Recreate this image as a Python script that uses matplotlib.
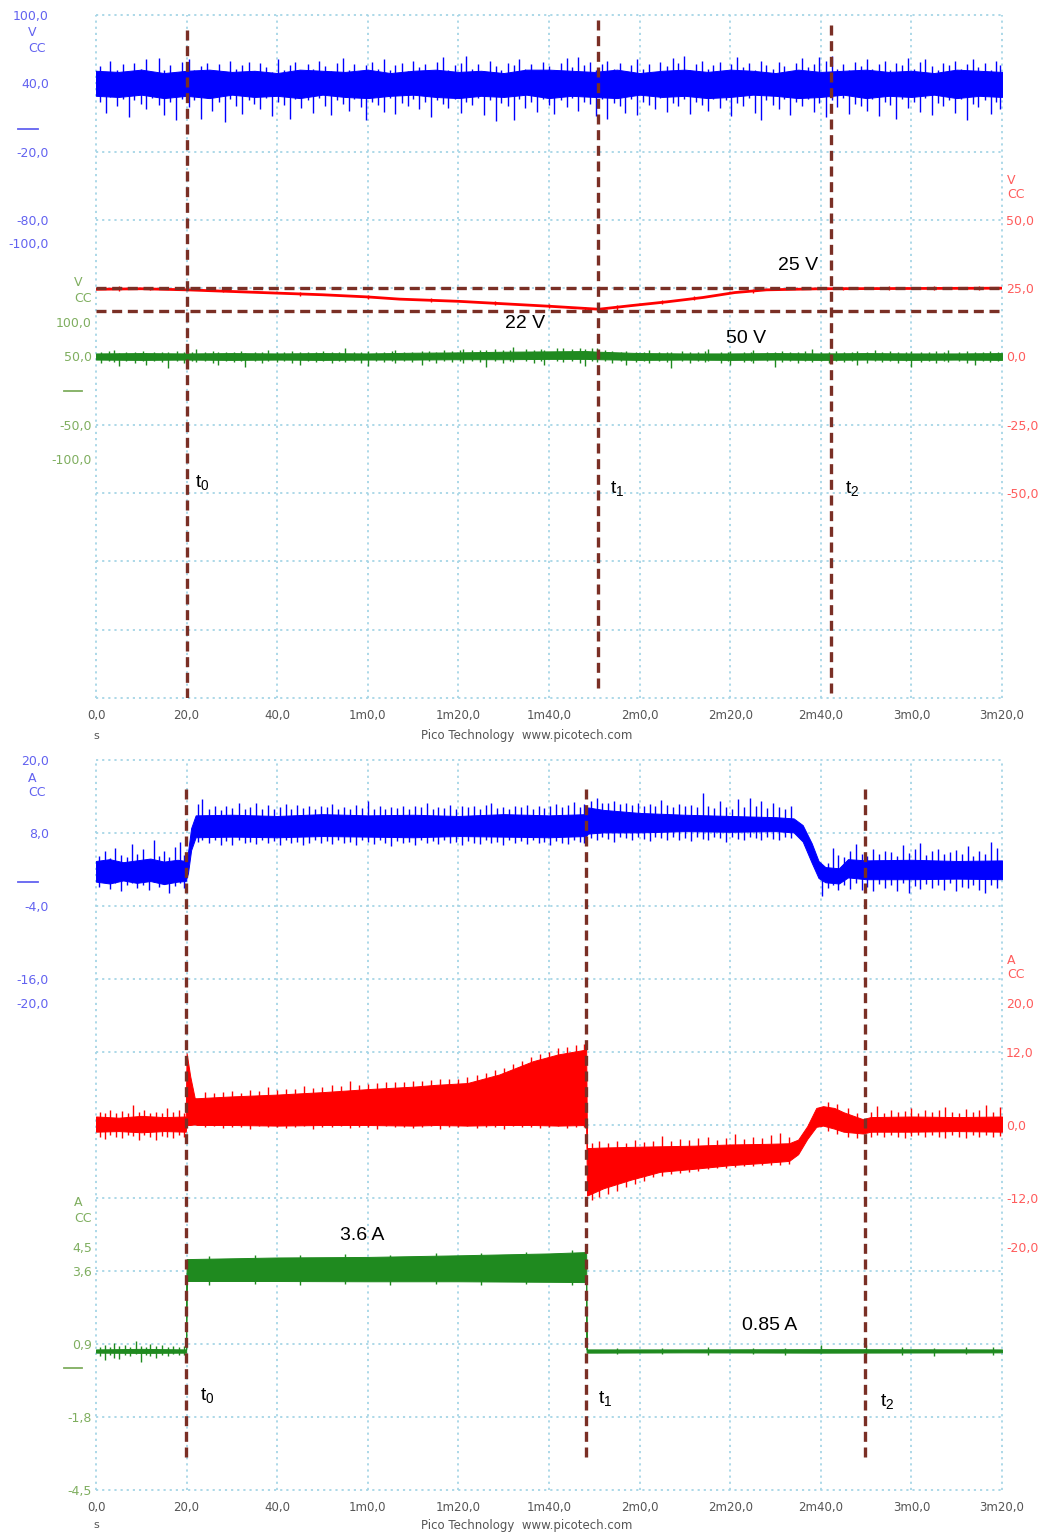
import matplotlib
matplotlib.use("Agg")
import matplotlib.pyplot as plt
import matplotlib.transforms as mtransforms

W, H, DPI = 1046, 1539, 100
plt.rcParams['font.family'] = ['DejaVu Sans']
plt.rcParams['mathtext.fontset'] = 'custom'
plt.rcParams['mathtext.rm'] = 'Liberation Sans'
plt.rcParams['mathtext.it'] = 'Liberation Sans'

# ---------------- time axis ----------------
time_ticks = [0, 20, 40, 60, 80, 100, 120, 140, 160, 180, 200]
time_labels = ["0,0", "20,0", "40,0", "1m0,0", "1m20,0", "1m40,0",
               "2m0,0", "2m20,0", "2m40,0", "3m0,0", "3m20,0"]

# cursor times (s)
top_cursors = [20.0, 110.8, 162.2]
bot_cursors = [19.9, 108.2, 169.8]

# ================= upper capture: voltages =================
# channel A (blue), V : dense core band + noise excursions (t, min, max)
vA_t = [0, 5, 10, 15, 20, 25, 30, 35, 40, 45, 50, 55, 60, 65, 70, 75, 80, 85, 90, 95, 100,
        105, 110, 115, 120, 125, 130, 135, 140, 145, 150, 155, 160, 165, 170, 175, 180, 185, 190, 195, 200]
vA_hi = [51, 50, 52, 49, 51, 52, 50, 51, 49, 52, 51, 50, 52, 49, 51, 52, 50, 51, 49, 52, 52,
         51, 50, 52, 49, 51, 52, 50, 52, 51, 49, 52, 50, 51, 52, 50, 51, 49, 52, 51, 50]
vA_lo = [29, 28, 30, 27, 29, 27, 30, 28, 29, 27, 30, 28, 27, 29, 30, 28, 27, 29, 28, 30, 27,
         29, 28, 27, 30, 28, 29, 27, 28, 30, 29, 27, 28, 30, 27, 29, 28, 30, 27, 29, 28]
vA_noise = [
    (0.8, 24, 55), (2.1, 14, 50), (3.0, 28, 60), (4.6, 20, 52), (5.9, 26, 57), (7.2, 10, 49),
    (8.4, 25, 58), (9.9, 22, 53), (11.0, 17, 61), (12.3, 27, 50), (13.9, 21, 62), (15.1, 12, 52),
    (16.4, 24, 56), (17.6, 8, 50), (19.0, 26, 59), (20.5, 19, 61), (21.7, 25, 52), (23.2, 9, 55),
    (24.5, 27, 58), (25.6, 16, 51), (27.1, 24, 57), (28.4, 6, 50), (29.5, 26, 60), (31.0, 20, 53),
    (32.2, 13, 56), (33.7, 25, 59), (34.9, 22, 51), (36.1, 17, 58), (37.6, 27, 54), (38.8, 11, 50),
    (40.1, 24, 61), (41.5, 21, 52), (42.8, 9, 56), (44.0, 26, 59), (45.3, 18, 51), (46.7, 25, 57),
    (48.0, 14, 53), (49.2, 27, 60), (50.6, 20, 55), (51.9, 12, 51), (53.1, 25, 58), (54.5, 22, 62),
    (55.8, 16, 52), (57.0, 26, 57), (58.4, 19, 50), (59.7, 8, 56), (61.0, 24, 59), (62.2, 21, 53),
    (63.6, 15, 61), (64.9, 27, 52), (66.1, 13, 56), (67.5, 23, 58), (68.8, 20, 51), (70.0, 26, 60),
    (71.4, 17, 54), (72.7, 24, 57), (73.9, 10, 50), (75.3, 25, 59), (76.6, 22, 63), (77.8, 18, 52),
    (79.2, 26, 56), (80.5, 14, 58), (81.7, 24, 64), (83.1, 21, 53), (84.4, 27, 57), (85.6, 12, 51),
    (87.0, 25, 60), (88.3, 7, 55), (89.5, 23, 52), (90.9, 20, 58), (92.2, 8, 56), (93.4, 26, 61),
    (94.8, 18, 53), (96.1, 24, 57), (97.3, 15, 50), (98.7, 26, 59), (100.0, 21, 55), (101.2, 13, 52),
    (102.6, 25, 58), (103.9, 19, 62), (105.1, 27, 54), (106.5, 16, 63), (107.8, 24, 56), (109.0, 22, 59),
    (110.4, 11, 52), (111.7, 26, 57), (112.9, 9, 60), (114.3, 23, 53), (115.6, 20, 58), (116.8, 14, 51),
    (118.2, 26, 56), (119.5, 12, 61), (120.7, 24, 53), (122.1, 21, 57), (123.4, 17, 50), (124.6, 27, 59),
    (126.0, 15, 55), (127.3, 23, 62), (128.5, 20, 58), (129.9, 26, 64), (131.2, 13, 52), (132.4, 24, 57),
    (133.8, 21, 60), (135.1, 16, 53), (136.3, 26, 56), (137.7, 18, 59), (139.0, 25, 51), (140.2, 11, 57),
    (141.6, 23, 63), (142.9, 20, 54), (144.1, 27, 58), (145.5, 14, 52), (146.8, 8, 60), (148.0, 25, 56),
    (149.4, 21, 53), (150.7, 17, 59), (151.9, 26, 55), (153.3, 12, 51), (154.6, 24, 58), (155.8, 20, 62),
    (157.2, 26, 54), (158.5, 15, 57), (159.7, 23, 63), (161.1, 10, 60), (162.4, 25, 64), (163.6, 19, 53),
    (165.0, 27, 57), (166.3, 13, 52), (167.5, 22, 59), (168.9, 20, 55), (170.2, 16, 61), (171.4, 26, 53),
    (172.8, 11, 57), (174.1, 24, 60), (175.3, 21, 52), (176.7, 9, 58), (178.0, 26, 56), (179.2, 18, 62),
    (180.6, 24, 53), (181.9, 15, 59), (183.1, 27, 61), (184.5, 12, 55), (185.8, 23, 52), (187.0, 20, 58),
    (188.4, 25, 56), (189.7, 14, 60), (190.9, 26, 53), (192.3, 8, 57), (193.6, 22, 61), (194.8, 19, 54),
    (196.2, 25, 58), (197.5, 13, 52), (198.7, 24, 60), (199.6, 17, 56),
]

# channel B (red), V
vB_t = [0, 10, 20, 30, 40, 50, 60, 67, 80, 90, 100, 111, 118, 126, 134, 141, 148, 160, 180, 200]
vB_v = [24.6, 24.8, 24.4, 23.8, 23.2, 22.6, 21.8, 21.0, 20.2, 19.3, 18.4, 17.3,
        18.6, 20.0, 21.6, 23.4, 24.4, 24.8, 24.9, 25.0]
vB_noise = [(5, 24.0, 25.8), (12, 24.2, 25.6), (28, 23.5, 24.8), (45, 22.3, 23.6), (60, 21.2, 22.6),
            (74, 20.0, 21.4), (88, 18.9, 20.3), (100, 17.8, 19.2), (108, 16.9, 18.2), (115, 17.2, 18.8),
            (125, 19.2, 20.8), (132, 20.5, 22.0), (145, 23.4, 24.8), (165, 24.2, 25.6), (175, 24.3, 25.7),
            (185, 24.2, 25.8), (195, 24.4, 25.8)]
vB_levels = [25.0, 16.6]

# channel C (green), V
vC_t = [0, 10, 20, 30, 40, 50, 60, 70, 80, 90, 100, 108, 111, 120, 130, 140, 150, 160, 170, 180, 190, 200]
vC_hi = [54.5, 55, 54.5, 55, 54.5, 55, 54.5, 55.5, 56, 57, 57.5, 58, 57, 55, 54.5, 54.5, 55, 54.5, 55, 54.5, 54.5, 55]
vC_lo = [45.5, 45, 45.5, 45, 45.5, 45, 45.5, 45.5, 46, 46, 46.5, 46.5, 46, 45, 45.5, 45, 45.5, 45, 45.5, 45, 45.5, 45]
vC_noise = [
    (1.0, 40, 56), (2.8, 44, 58), (4.0, 42, 60), (5.0, 36, 55), (6.7, 43, 57), (8.5, 41, 56),
    (10.3, 44, 58), (11.0, 38, 55), (12.9, 43, 57), (14.6, 42, 56), (16.0, 33, 57), (17.8, 44, 58),
    (19.5, 41, 56), (21.2, 43, 57), (22.0, 42, 61), (24.1, 44, 56), (25.9, 41, 58), (27.0, 38, 56),
    (28.8, 43, 57), (30.5, 42, 56), (32.1, 44, 58), (33.0, 35, 55), (35.0, 43, 57), (36.7, 41, 56),
    (38.0, 43, 59), (39.9, 42, 56), (41.6, 44, 57), (43.3, 41, 58), (45.0, 37, 56), (46.8, 43, 57),
    (48.5, 42, 56), (50.2, 44, 58), (52.0, 41, 57), (53.7, 43, 56), (55.0, 42, 62), (56.9, 44, 57),
    (58.6, 41, 56), (60.0, 36, 58), (61.9, 43, 57), (63.6, 42, 56), (65.3, 44, 58), (66.0, 41, 60),
    (68.0, 43, 57), (69.8, 42, 56), (72.0, 38, 58), (73.4, 43, 58), (75.1, 41, 57), (76.9, 44, 59),
    (78.6, 42, 58), (80.3, 43, 60), (81.0, 41, 61), (83.0, 44, 59), (84.7, 42, 60), (86.0, 34, 59),
    (88.1, 43, 61), (89.8, 41, 60), (91.5, 44, 60), (92.0, 42, 64), (94.9, 43, 61), (96.6, 41, 60),
    (98.3, 44, 61), (99.0, 37, 60), (101.7, 43, 62), (103.0, 42, 62), (105.1, 44, 61), (106.8, 41, 62),
    (108.0, 36, 61), (109.5, 43, 63), (110.5, 42, 62), (112.3, 44, 59), (114.0, 41, 58), (115.8, 43, 57),
    (117.0, 38, 58), (119.2, 42, 56), (120.9, 44, 57), (122.0, 41, 60), (124.3, 43, 56), (126.0, 42, 57),
    (127.0, 33, 56), (129.4, 44, 58), (131.1, 41, 57), (132.8, 43, 56), (134.5, 42, 58), (135.0, 44, 61),
    (137.9, 41, 57), (139.6, 43, 56), (140.0, 37, 58), (143.0, 42, 57), (144.7, 44, 56), (145.0, 41, 59),
    (148.1, 43, 57), (150.0, 35, 56), (151.5, 42, 58), (153.2, 44, 57), (154.9, 41, 56), (156.6, 43, 58),
    (158.0, 42, 61), (160.0, 44, 57), (161.7, 41, 56), (163.4, 43, 58), (165.1, 42, 57), (166.8, 44, 56),
    (168.0, 38, 58), (170.2, 41, 57), (172.0, 43, 60), (173.6, 42, 56), (175.3, 44, 58), (177.0, 41, 57),
    (178.7, 43, 56), (180.0, 34, 58), (182.1, 42, 57), (183.8, 44, 56), (185.5, 41, 58), (187.2, 43, 57),
    (188.0, 42, 60), (190.6, 44, 56), (192.3, 41, 58), (194.0, 37, 57), (195.7, 43, 56), (197.4, 42, 58),
    (199.1, 44, 57),
]

# ================= lower capture: currents =================
# channel A (blue), A
iA_t = [0, 3, 6, 9, 12, 15, 18, 19.8, 20.3, 21, 22, 30, 40, 50, 60, 70, 80, 90, 100, 108.2,
        108.6, 112, 120, 130, 140, 150, 154, 156, 158, 159.5, 161, 164, 166, 170, 180, 190, 200]
iA_hi = [3.4, 3.7, 3.2, 3.5, 3.8, 3.3, 3.6, 3.4, 4.8, 8.8, 10.9, 11.0, 10.8, 11.1, 10.9, 11.0,
         10.8, 11.1, 10.9, 11.1, 12.2, 11.8, 11.3, 11.0, 10.8, 10.6, 10.4, 9.3, 6.3, 3.4, 2.4,
         2.2, 3.7, 3.5, 3.6, 3.4, 3.5]
iA_lo = [0.0, -0.3, 0.2, -0.2, 0.1, -0.4, 0.0, 0.1, 1.4, 5.2, 7.3, 7.4, 7.3, 7.5, 7.4, 7.3,
         7.5, 7.4, 7.3, 7.5, 7.9, 8.1, 8.1, 8.3, 8.2, 8.3, 8.1, 6.6, 3.1, 0.6, -0.1,
         -0.3, 0.7, 0.4, 0.4, 0.5, 0.4]
iA_noise = [
    (0.7, -0.8, 4.2), (1.9, 0.0, 5.1), (3.2, -1.2, 3.9), (4.3, -0.3, 5.6), (5.6, -1.6, 4.4),
    (6.8, -0.5, 4.0), (7.9, -0.2, 6.2), (9.1, -1.0, 4.6), (10.4, -0.6, 5.3), (11.6, -1.4, 3.8),
    (12.7, -0.1, 6.8), (13.9, -0.9, 4.3), (15.1, -0.4, 5.0), (16.2, -1.8, 4.1), (17.5, -0.7, 5.7),
    (18.6, -0.2, 6.5), (19.5, -1.1, 4.4),
    (22.6, 6.6, 12.8), (23.5, 6.9, 13.6), (24.9, 6.3, 12.0), (26.2, 6.8, 12.4), (27.6, 6.1, 11.8),
    (28.8, 6.7, 12.5), (30.1, 6.0, 12.1), (31.5, 6.9, 12.9), (32.8, 6.4, 11.9), (34.0, 6.6, 12.3),
    (35.3, 6.2, 13.0), (36.7, 6.8, 12.0), (38.0, 6.3, 12.6), (39.2, 6.7, 11.9), (40.6, 6.1, 12.2),
    (41.9, 6.9, 12.7), (43.1, 6.4, 12.0), (44.4, 6.6, 12.6), (45.8, 6.0, 12.1), (47.0, 6.3, 12.4),
    (48.3, 6.8, 12.0), (49.6, 6.4, 12.5), (50.9, 6.7, 12.2), (52.2, 6.2, 12.8), (53.5, 6.9, 11.9),
    (54.8, 6.3, 12.3), (56.1, 6.6, 12.0), (57.4, 6.1, 12.6), (58.7, 6.8, 12.1), (60.0, 6.5, 13.2),
    (61.3, 6.2, 12.0), (62.6, 6.9, 12.4), (63.9, 6.4, 11.9), (65.2, 5.9, 12.3), (66.5, 6.7, 12.1),
    (67.8, 6.3, 12.4), (69.1, 6.6, 12.0), (70.4, 6.1, 12.5), (71.7, 6.8, 12.2), (73.0, 6.4, 12.9),
    (74.3, 6.7, 12.0), (75.6, 6.2, 12.3), (76.9, 6.9, 12.1), (78.2, 6.3, 12.6), (79.5, 6.6, 12.0),
    (80.8, 6.0, 12.5), (82.1, 6.7, 12.2), (83.4, 6.4, 12.4), (84.7, 6.2, 12.0), (86.0, 6.8, 12.6),
    (87.3, 6.3, 13.0), (88.6, 6.6, 12.1), (89.9, 6.1, 12.3), (91.2, 6.9, 12.0), (92.5, 6.4, 12.5),
    (93.8, 6.7, 12.2), (95.1, 6.2, 12.6), (96.4, 6.8, 12.0), (97.7, 6.3, 12.4), (99.0, 6.6, 12.1),
    (100.3, 6.0, 12.5), (101.6, 6.7, 12.8), (102.9, 6.4, 12.2), (104.2, 6.2, 12.6), (105.5, 6.8, 13.1),
    (106.8, 6.5, 12.3), (107.8, 6.3, 12.7),
    (109.2, 7.2, 13.3), (110.5, 6.8, 13.8), (111.8, 7.4, 13.0), (113.1, 7.0, 12.9), (114.4, 6.6, 13.2),
    (115.7, 7.3, 12.7), (117.0, 7.1, 13.0), (118.3, 6.9, 12.6), (119.6, 7.4, 12.9), (120.9, 7.0, 12.5),
    (122.2, 6.7, 12.8), (123.5, 7.3, 12.4), (124.8, 7.1, 13.4), (126.1, 6.8, 12.6), (127.4, 7.4, 12.3),
    (128.7, 6.9, 12.7), (130.0, 7.2, 12.4), (131.3, 6.7, 12.6), (132.6, 7.3, 12.2), (133.9, 7.0, 14.5),
    (135.2, 6.8, 12.4), (136.5, 7.4, 12.1), (137.8, 7.1, 13.2), (139.1, 6.6, 12.3), (140.4, 7.3, 12.0),
    (141.7, 7.0, 13.6), (143.0, 6.9, 12.2), (144.3, 7.4, 13.8), (145.6, 7.2, 12.5), (146.9, 6.8, 13.3),
    (148.2, 7.3, 12.1), (149.5, 7.0, 13.0), (150.8, 6.9, 12.3), (152.1, 7.4, 12.0), (153.4, 7.1, 12.4),
    (160.2, -2.3, 2.6), (161.5, -1.0, 3.0), (162.6, -0.6, 5.5), (163.9, -1.3, 4.4), (165.1, -0.5, 4.0),
    (166.4, -1.2, 5.0), (167.7, -0.3, 6.2), (169.0, -1.4, 4.6), (170.3, -0.8, 4.2), (171.6, -1.6, 5.4),
    (172.9, -0.4, 4.5), (174.2, -1.1, 5.0), (175.5, -0.6, 4.8), (176.8, -1.5, 4.3), (178.1, -0.2, 6.0),
    (179.4, -1.8, 4.7), (180.7, -0.7, 5.3), (182.0, -1.2, 6.3), (183.3, -0.4, 4.4), (184.6, -1.0, 5.1),
    (185.9, -0.6, 5.4), (187.2, -1.4, 4.5), (188.5, -0.3, 4.9), (189.8, -1.5, 5.2), (191.1, -0.8, 4.6),
    (192.4, -1.1, 5.8), (193.7, -0.5, 4.3), (195.0, -1.3, 5.0), (196.3, -1.9, 4.6), (197.6, -0.6, 6.6),
    (198.9, -1.0, 5.6),
]

# channel B (red), A
iB_t = [0, 5, 10, 15, 19.8, 20.0, 20.8, 21.8, 22.3, 30, 40, 50, 60, 70, 75, 82, 89, 96.5, 102,
        108.2, 108.4, 112, 118, 124.5, 132, 140, 148, 153, 155, 157, 159, 160.5, 163, 165,
        169.3, 171, 180, 190, 200]
iB_hi = [1.4, 1.2, 1.5, 1.3, 1.4, 11.8, 8.0, 4.4, 4.4, 4.7, 5.0, 5.4, 5.9, 6.3, 6.6, 6.9,
         8.3, 10.5, 11.6, 12.4, -3.8, -3.7, -3.6, -3.5, -3.4, -3.2, -3.1, -3.0, -2.4, -0.2,
         2.8, 3.1, 2.8, 2.1, 0.95, 1.3, 1.4, 1.3, 1.4]
iB_lo = [-1.1, -1.0, -1.2, -1.0, -1.1, 0.0, 0.0, 0.1, 0.0, 0.0, -0.1, 0.0, 0.0, -0.1,
         0.0, -0.1, 0.0, 0.0, -0.1, 0.0, -11.6, -10.4, -9.0, -7.7, -7.2, -6.6, -6.2, -5.9,
         -4.8, -2.3, -0.3, -0.1, -0.6, -1.1, -1.4, -1.1, -1.1, -1.0, -1.1]
iB_noise = [
    (0.8, -2.0, 2.2), (2.0, -2.3, 1.9), (3.1, -1.7, 2.5), (4.5, -1.9, 2.0), (5.8, -2.1, 2.3),
    (7.0, -1.6, 1.9), (8.2, -1.8, 3.3), (9.5, -2.4, 2.1), (10.7, -1.7, 2.4), (12.0, -2.0, 1.9),
    (13.2, -2.5, 2.2), (14.5, -1.8, 2.0), (15.7, -1.9, 2.8), (17.0, -2.2, 2.1), (18.3, -1.7, 2.4),
    (19.4, -2.0, 2.0),
    (24, -0.4, 5.4), (26, -0.2, 5.2), (28, -0.5, 5.5), (30, -0.3, 5.6), (32, -0.3, 5.3), (34, -0.6, 5.8),
    (36, -0.2, 5.6), (38, -0.4, 6.3), (40, -0.3, 5.8), (42, -0.5, 5.9), (44, -0.3, 6.0), (46, -0.2, 6.4),
    (48, -0.6, 6.1), (50, -0.3, 6.2), (52, -0.4, 6.5), (54, -0.2, 6.4), (56, -0.5, 7.2), (58, -0.3, 6.6),
    (60, -0.3, 6.8), (62, -0.6, 6.9), (64, -0.2, 7.0), (66, -0.4, 7.1), (68, -0.3, 7.0), (70, -0.5, 7.3),
    (72, -0.3, 7.2), (74, -0.2, 7.4), (76, -0.6, 7.5), (78, -0.3, 7.6), (80, -0.4, 7.6), (82, -0.2, 7.9),
    (84, -0.5, 8.2), (86, -0.3, 8.6), (88, -0.3, 9.1), (90, -0.6, 9.4), (92, -0.2, 10.0), (94, -0.4, 10.6),
    (96, -0.3, 11.2), (98, -0.5, 11.6), (100, -0.3, 12.0), (102, -0.2, 12.6), (104, -0.5, 12.8),
    (106, -0.3, 13.1), (107.8, -0.4, 13.3),
    (109.5, -12.4, -2.9), (111, -11.9, -2.7), (113, -11.3, -3.0), (115, -10.8, -2.6), (117, -10.2, -2.9),
    (119, -9.7, -2.5), (121, -9.2, -2.8), (123, -8.6, -2.6), (125, -8.4, -1.8), (127, -8.1, -2.6),
    (129, -7.9, -2.3), (131, -7.7, -2.5), (133, -7.5, -2.2), (135, -7.3, -2.0), (137, -7.1, -2.4),
    (139, -7.0, -2.1), (141, -6.9, -1.5), (143, -6.8, -2.3), (145, -6.7, -1.9), (147, -6.6, -2.2),
    (149, -6.5, -1.7), (151, -6.5, -1.3), (153, -6.4, -1.9),
    (161.5, -1.0, 3.8), (163.5, -1.5, 3.4), (166, -2.0, 2.8), (168, -2.2, 2.0),
    (171, -1.9, 2.2), (172.5, -1.7, 3.2), (174, -2.0, 2.0), (175.5, -1.6, 2.4), (177, -1.9, 2.1),
    (178.5, -2.2, 2.3), (180, -1.8, 2.8), (181.5, -1.6, 2.0), (183, -2.0, 2.4), (184.5, -1.7, 2.1),
    (186, -1.9, 2.5), (187.5, -2.1, 3.0), (189, -1.6, 2.2), (190.5, -1.9, 2.0), (192, -2.1, 2.6),
    (193.5, -1.7, 2.2), (195, -1.9, 2.4), (196.5, -1.6, 3.3), (198, -2.0, 2.1), (199.5, -1.8, 2.9),
]

# channel C (green), A
iC_t = [0, 10, 19.9, 20.0, 40, 60, 80, 100, 108.2, 108.3, 130, 160, 200]
iC_hi = [0.70, 0.72, 0.70, 4.04, 4.10, 4.12, 4.18, 4.25, 4.30, 0.70, 0.70, 0.71, 0.70]
iC_lo = [0.58, 0.57, 0.58, 3.23, 3.23, 3.22, 3.22, 3.20, 3.19, 0.58, 0.59, 0.58, 0.59]
iC_noise = [
    (0.8, 0.45, 0.80), (1.9, 0.30, 0.85), (3.1, 0.50, 0.78), (4.0, 0.40, 0.95), (5.0, 0.35, 0.82),
    (6.3, 0.50, 0.85), (7.5, 0.45, 0.80), (8.8, 0.52, 1.00), (10.0, 0.25, 0.84), (11.1, 0.48, 0.80),
    (12.0, 0.44, 0.90), (13.2, 0.40, 0.82), (14.5, 0.50, 0.86), (15.8, 0.46, 0.80), (17.0, 0.52, 0.84),
    (18.3, 0.48, 0.80), (19.5, 0.50, 0.83),
    (25, 3.10, 4.15), (35, 3.12, 4.20), (45, 3.10, 4.18), (55, 3.13, 4.22), (65, 3.10, 4.20),
    (75, 3.12, 4.25), (85, 3.10, 4.28), (95, 3.12, 4.32), (105, 3.10, 4.36),
    (115, 0.52, 0.76), (125, 0.54, 0.75), (135, 0.50, 0.78), (145, 0.53, 0.76), (152, 0.50, 0.77),
    (160, 0.55, 0.85), (170, 0.54, 0.85), (178, 0.50, 0.78), (185, 0.45, 0.76), (192, 0.52, 0.78),
    (198, 0.50, 0.80),
]

# ---------------- styling ----------------
BLUE, RED, GREEN = '#0000ff', '#ff0000', '#1f8a1f'
BLUE_TXT, RED_TXT, GREEN_TXT = '#6262f0', '#ff5c5c', '#7fae5f'
CURSOR = '#7a2f25'
GRID = '#a6d5e6'
AX_TXT = '#555555'
DASH = (0, (3, 1.7))

fig = plt.figure(figsize=(W / DPI, H / DPI), dpi=DPI)


def px(x, y):
    return x / W, 1 - y / H


def base_axes(top, bottom):
    l, r = 96 / W, 1002 / W
    ax = fig.add_axes([l, 1 - bottom / H, r - l, (bottom - top) / H])
    ax.set_xlim(0, 200)
    ax.set_ylim(0, 10)
    ax.set_xticks(time_ticks)
    ax.set_xticklabels(time_labels)
    ax.set_yticks(range(11))
    ax.set_yticklabels([])
    ax.tick_params(axis='y', length=0)
    ax.tick_params(axis='x', length=0, pad=8, labelsize=8.5, labelcolor=AX_TXT)
    ax.grid(True, color=GRID, linestyle=(0, (1.2, 2.2)), lw=1.3)
    for gl in ax.get_xgridlines() + ax.get_ygridlines():
        gl.set_clip_on(False)
    for s in ax.spines.values():
        s.set_visible(False)
    ax.patch.set_visible(False)
    return ax


def channel_axes(ax, ylim, ticks, labels, side, color, pad):
    tw = ax.twinx()
    tw.set_ylim(*ylim)
    tw.set_yticks(ticks)
    tw.set_yticklabels(labels)
    if side == 'left':
        tw.yaxis.tick_left()
    tw.tick_params(axis='y', length=0, pad=pad, labelsize=9, labelcolor=color)
    for s in tw.spines.values():
        s.set_visible(False)
    tw.patch.set_visible(False)
    return tw


def zero_marker(tw, x0, x1, color):
    tr = mtransforms.blended_transform_factory(fig.transFigure, tw.transData)
    tw.plot([x0 / W, x1 / W], [0, 0], color=color, lw=1.3, transform=tr, clip_on=False)


def unit_label(x, y, unit, color):
    fig.text(*px(x, y), unit, color=color, fontsize=9, ha='center', va='center')
    fig.text(*px(x + 5, y + 15), "CC", color=color, fontsize=9, ha='center', va='center')


def trace(tw, t, lo, hi, color, noise):
    tw.fill_between(t, lo, hi, color=color, lw=0.7, edgecolor=color)
    nt, nlo, nhi = zip(*noise)
    tw.vlines(nt, nlo, nhi, color=color, lw=1.0)


def cursors(ax, times, y0, y1):
    for t in times:
        ax.plot([t, t], [y0, y1], color=CURSOR, lw=2.4, linestyle=DASH, zorder=10)


def note(ax, x, y, s):
    ax.text(x, y, s, fontsize=14, color='black', family='Liberation Sans',
            ha='left', va='center', zorder=11)


# ================= upper capture =================
ax1 = base_axes(15, 698)
ax1.text(0, -0.55, "s", fontsize=8, color=AX_TXT, ha='center', va='center', clip_on=False)
ax1.text(95, -0.55, "Pico Technology  www.picotech.com", fontsize=8.5, color=AX_TXT,
         ha='center', va='center', clip_on=False)

tA = channel_axes(ax1, (-500, 100), [100, 40, -20, -80, -100],
                  ["100,0", "40,0", "-20,0", "-80,0", "-100,0"], 'left', BLUE_TXT, 34)
tB = channel_axes(ax1, (-125, 125), [50, 25, 0, -25, -50],
                  ["50,0", "25,0", "0,0", "-25,0", "-50,0"], 'right', RED_TXT, 3)
tC = channel_axes(ax1, (-450, 550), [100, 50, -50, -100],
                  ["100,0", "50,0", "-50,0", "-100,0"], 'left', GREEN_TXT, 3)

trace(tA, vA_t, vA_lo, vA_hi, BLUE, vA_noise)
tB.plot(vB_t, vB_v, color=RED, lw=2.0)
nt, nlo, nhi = zip(*vB_noise)
tB.vlines(nt, nlo, nhi, color=RED, lw=1.0)
trace(tC, vC_t, vC_lo, vC_hi, GREEN, vC_noise)

zero_marker(tA, 18, 38, BLUE_TXT)
zero_marker(tC, 64, 82, GREEN_TXT)
unit_label(32, 33, "V", BLUE_TXT)
unit_label(78, 283, "V", GREEN_TXT)
unit_label(1011, 180, "V", RED_TXT)

cur1 = ax1.twinx()
cur1.set_ylim(0, 10)
cur1.axis('off')
level_tr = mtransforms.blended_transform_factory(cur1.transData, tB.transData)
for lvl in vB_levels:
    cur1.plot([0, 200], [lvl, lvl], color=CURSOR, lw=2.4, linestyle=DASH, zorder=10,
              transform=level_tr)
cursors(cur1, [top_cursors[0]], 0, 9.81)
cursors(cur1, [top_cursors[1]], 0.146, 10)
cursors(cur1, [top_cursors[2]], 0.073, 9.9)
note(cur1, 21.9, 3.15, r"$\mathregular{t_0}$")
note(cur1, 113.5, 3.07, r"$\mathregular{t_1}$")
note(cur1, 165.3, 3.07, r"$\mathregular{t_2}$")
note(cur1, 90.3, 5.48, "22 V")
note(cur1, 150.6, 6.33, "25 V")
note(cur1, 139.1, 5.26, "50 V")

# ================= lower capture =================
ax2 = base_axes(760, 1490)
ax2.text(0, -0.48, "s", fontsize=8, color=AX_TXT, ha='center', va='center', clip_on=False)
ax2.text(95, -0.48, "Pico Technology  www.picotech.com", fontsize=8.5, color=AX_TXT,
         ha='center', va='center', clip_on=False)

bA = channel_axes(ax2, (-100, 20), [20, 8, -4, -16, -20],
                  ["20,0", "8,0", "-4,0", "-16,0", "-20,0"], 'left', BLUE_TXT, 34)
bB = channel_axes(ax2, (-60, 60), [20, 12, 0, -12, -20],
                  ["20,0", "12,0", "0,0", "-12,0", "-20,0"], 'right', RED_TXT, 3)
bC = channel_axes(ax2, (-4.5, 22.5), [4.5, 3.6, 0.9, -1.8, -4.5],
                  ["4,5", "3,6", "0,9", "-1,8", "-4,5"], 'left', GREEN_TXT, 3)

trace(bA, iA_t, iA_lo, iA_hi, BLUE, iA_noise)
trace(bB, iB_t, iB_lo, iB_hi, RED, iB_noise)
trace(bC, iC_t, iC_lo, iC_hi, GREEN, iC_noise)

zero_marker(bA, 18, 38, BLUE_TXT)
zero_marker(bC, 64, 82, GREEN_TXT)
unit_label(32, 778, "A", BLUE_TXT)
unit_label(78, 1203, "A", GREEN_TXT)
unit_label(1011, 960, "A", RED_TXT)

cur2 = ax2.twinx()
cur2.set_ylim(0, 10)
cur2.axis('off')
cursors(cur2, bot_cursors, 0.45, 9.63)
note(cur2, 23.0, 1.30, r"$\mathregular{t_0}$")
note(cur2, 110.8, 1.26, r"$\mathregular{t_1}$")
note(cur2, 173.1, 1.21, r"$\mathregular{t_2}$")
note(cur2, 53.9, 3.49, "3.6 A")
note(cur2, 142.6, 2.25, "0.85 A")

fig.savefig("out.png", dpi=DPI)
